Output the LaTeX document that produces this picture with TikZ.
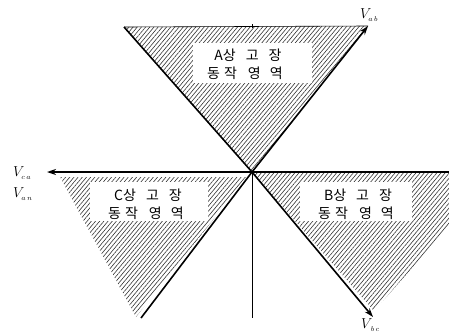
\documentclass[tikz,border=0pt]{standalone}
\usepackage{fontspec}
\newfontfamily\kr{Noto Sans CJK KR}
\usetikzlibrary{patterns.meta,arrows.meta}
\tikzset{
  hatch/.style={pattern={Lines[angle=50,distance=3.2pt,line width=0.6pt]},pattern color=black!80},
  thickline/.style={line width=1.6pt,black},
  thinline/.style={line width=0.6pt,black},
  arr/.style={-{Stealth[length=9pt,width=6pt]}},
  krtext/.style={font=\kr\fontsize{14}{16}\selectfont,inner sep=0pt,anchor=center},
  vlabel/.style={font=\fontsize{14}{16}\selectfont,inner sep=0pt}
}
\begin{document}
\begin{tikzpicture}[x=1pt,y=-1pt]
\useasboundingbox (0,0) rectangle (449,335);
\coordinate (O) at (252,172);
\coordinate (Atl) at (124,27);
\coordinate (Vab) at (368,26);
\coordinate (Ctl) at (60,177);
\coordinate (Ctr) at (247,177);
\coordinate (Cb) at (136,317);
\coordinate (Cline) at (141,318);
\coordinate (Bb) at (374,311);
\coordinate (Vbc) at (373,317);
\coordinate (Vca) at (47,172);
\coordinate (Rend) at (449,172);
\coordinate (Vbot) at (252,318);
\coordinate (Ttick) at (252,24);
% hatched regions
\fill[hatch] (Atl) -- (Vab) -- (O) -- cycle;
\fill[hatch] (Ctl) -- (Ctr) -- (Cb) -- cycle;
\begin{scope}
\clip (0,0) rectangle (449,335);
\fill[hatch] (O) -- (497,172) -- (Bb) -- cycle;
\end{scope}
% white boxes
\fill[white] (193,43) rectangle (312,83);
\fill[white] (90,182) rectangle (208,221);
\fill[white] (300,182) rectangle (412,221);
% lines
\draw[thinline] (Atl) -- (Vab);
\draw[thinline] (Ttick) -- ++(0,4);
\draw[thickline] (Atl) -- (O);
\draw[thickline,arr] (O) -- (Vab);
\draw[thickline,arr] (Rend) -- (Vca);
\draw[thickline] (O) -- (Cline);
\draw[thickline,arr] (O) -- (Vbc);
\draw[thinline] (O) -- (Vbot);
% texts
\node[krtext] (a1) at (248,55) {A상\hspace{10pt}고\hspace{10pt}장};
\node[krtext] (a2) at (245,73) {동\hspace{4pt}작\hspace{11pt}영\hspace{9pt}역};
\node[krtext] (c1) at (148,195) {C상\hspace{10pt}고\hspace{10pt}장};
\node[krtext] (c2) at (146,213) {동\hspace{4pt}작\hspace{11pt}영\hspace{9pt}역};
\node[krtext] (b1) at (358,195) {B상\hspace{10pt}고\hspace{10pt}장};
\node[krtext] (b2) at (356,213) {동\hspace{4pt}작\hspace{11pt}영\hspace{9pt}역};
% vector labels
\node[vlabel,anchor=west] (lab) at (360,15) {$V_{\scriptscriptstyle a\,b}$};
\node[vlabel,anchor=west] (lca) at (13,173) {$V_{\scriptscriptstyle c\,a}$};
\node[vlabel,anchor=west] (lan) at (13,194) {$V_{\scriptscriptstyle a\,n}$};
\node[vlabel,anchor=west] (lbc) at (361,325) {$V_{\scriptscriptstyle \,b\,c}$};
\end{tikzpicture}
\end{document}
